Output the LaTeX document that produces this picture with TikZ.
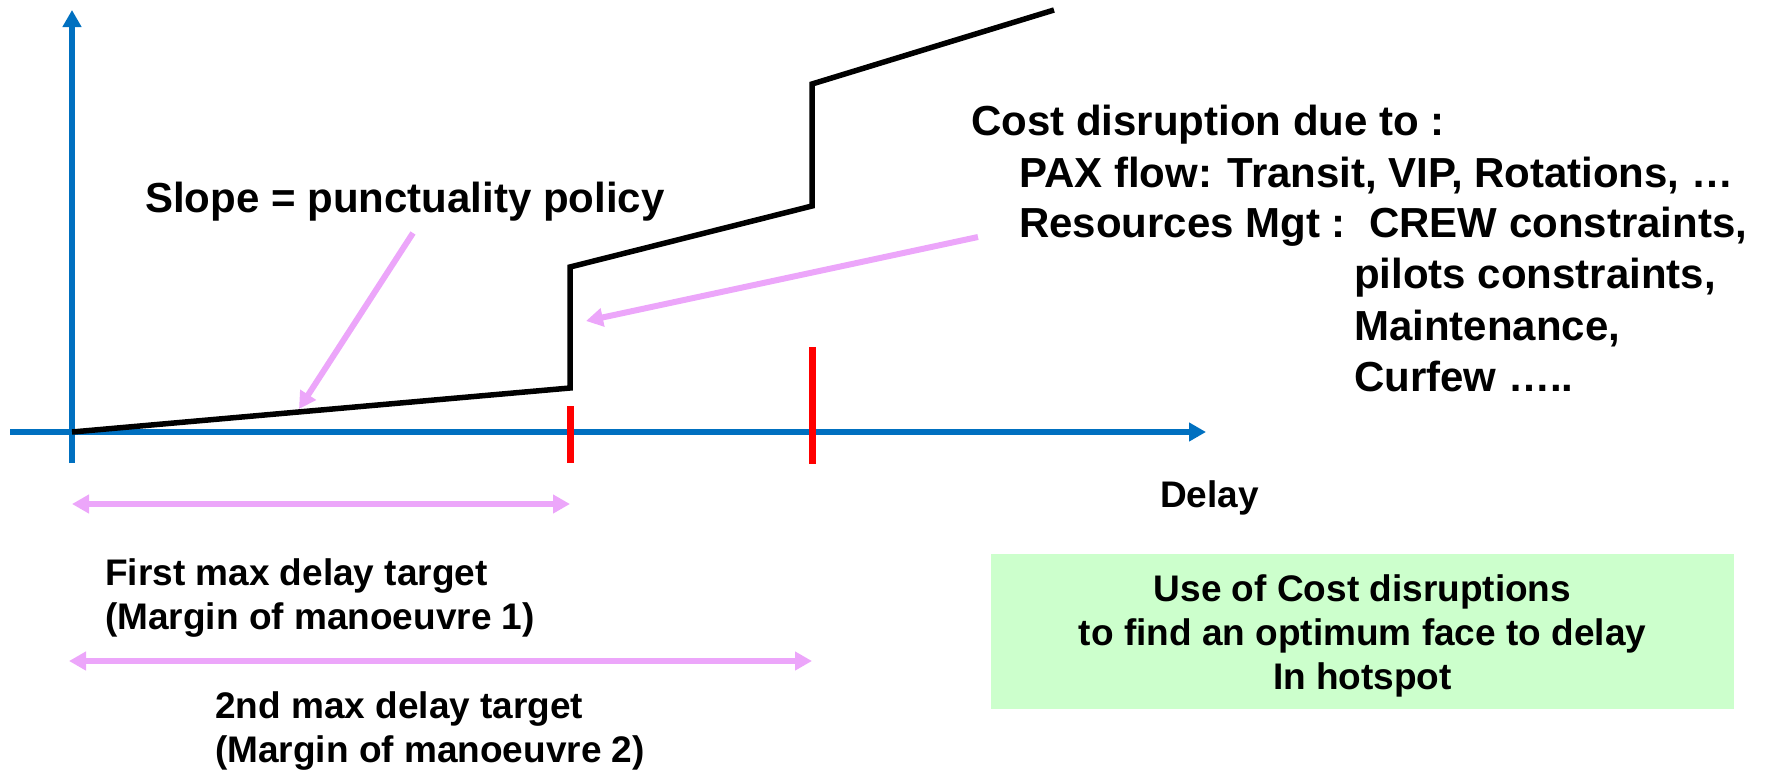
\documentclass[tikz,border=0pt]{standalone}
\usepackage{fontspec}
\setmainfont{Liberation Sans}
\usetikzlibrary{arrows.meta}
\definecolor{axisblue}{RGB}{0,112,192}
\definecolor{notepink}{RGB}{236,166,250}
\definecolor{boxgreen}{RGB}{204,255,204}
\definecolor{tickred}{RGB}{255,0,0}

\begin{document}
\begin{tikzpicture}[x=1pt,y=-1pt,
  axis/.style={draw=axisblue,line width=6pt,-{Triangle[length=17pt,width=18pt]}},
  pointer/.style={draw=notepink,line width=6pt,-{Triangle[length=17pt,width=18pt]}},
  span/.style={draw=notepink,line width=6pt,{Triangle[length=17pt,width=18pt]}-{Triangle[length=17pt,width=18pt]}},
  limit/.style={draw=tickred,line width=7pt},
  costline/.style={draw=black,line width=5.5pt,line join=miter},
  bigtext/.style={inner sep=0pt,anchor=base west,font=\fontsize{42}{51}\selectfont\bfseries},
  smalltext/.style={inner sep=0pt,anchor=base west,font=\fontsize{37}{44}\selectfont\bfseries},
]
\useasboundingbox (0,0) rectangle (1765,769);

% axes
\coordinate (origin) at (72,432);
\coordinate (xstart) at (10,432);
\coordinate (xend) at (1206,432);
\coordinate (ybottom) at (72,463);
\coordinate (ytop) at (72,10);
\draw[axis] (xstart) -- (xend);
\draw[axis] (ybottom) -- (ytop);

% delay limits on the time axis
\coordinate (lim1top) at (570,406);
\coordinate (lim1bot) at (570,463);
\coordinate (lim2top) at (812,347);
\coordinate (lim2bot) at (812,464);
\draw[limit] (lim1top) -- (lim1bot);
\draw[limit] (lim2top) -- (lim2bot);

% cost curve
\coordinate (c1) at (570,388);
\coordinate (c2) at (570,267);
\coordinate (c3) at (812,206);
\coordinate (c4) at (812,84);
\coordinate (c5) at (1054,10);
\draw[costline] (origin) -- (c1) -- (c2) -- (c3) -- (c4) -- (c5);

% labels
\node[bigtext] (slope) at (145,212) {Slope = punctuality policy};
\node[bigtext] (cost0) at (971,135) {Cost disruption due to :};
\node[bigtext] (cost1) at (1019,187) {PAX flow: Transit, VIP, Rotations, …};
\node[bigtext] (cost2) at (1019,237) {Resources Mgt :\ \ CREW constraints,};
\node[bigtext] (cost3) at (1354,288) {pilots constraints,};
\node[bigtext] (cost4) at (1354,340) {Maintenance,};
\node[bigtext] (cost5) at (1354,391) {Curfew …..};
\node[smalltext] (delay) at (1160,507) {Delay};
\node[smalltext] (first1) at (105,585) {First max delay target};
\node[smalltext] (first2) at (105,629) {(Margin of manoeuvre 1)};
\node[smalltext] (second1) at (215,718) {2nd max delay target};
\node[smalltext] (second2) at (215,762) {(Margin of manoeuvre 2)};

% pointers
\coordinate (slopefrom) at (413,233);
\coordinate (slopeto) at (299,409);
\draw[pointer] (slopefrom) -- (slopeto);
\coordinate (costfrom) at (978,237);
\coordinate (costto) at (586,321);
\draw[pointer] (costfrom) -- (costto);

% margins of manoeuvre
\coordinate (m1a) at (72,504);
\coordinate (m1b) at (570,504);
\draw[span] (m1a) -- (m1b);
\coordinate (m2a) at (69,661);
\coordinate (m2b) at (812,661);
\draw[span] (m2a) -- (m2b);

% conclusion box
\node[fill=boxgreen,minimum width=743pt,minimum height=155pt,inner sep=0pt] (note) at (1362.5,631.5) {};
\node[align=center,inner sep=0pt,font=\fontsize{37}{44}\selectfont\bfseries,yshift=-4pt] (notetext) at (note.center)
  {Use of Cost disruptions\\to find an optimum face to delay\\In hotspot};
\end{tikzpicture}
\end{document}
